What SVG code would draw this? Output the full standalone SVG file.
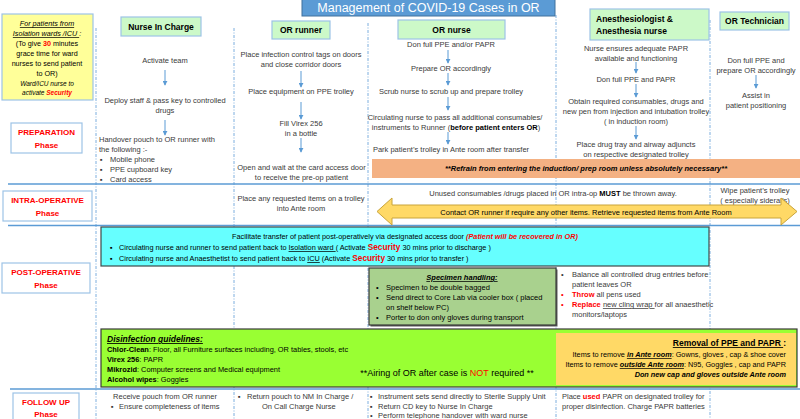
<svg xmlns="http://www.w3.org/2000/svg" width="800" height="419" viewBox="0 0 800 419">
<defs>
<style>
text{font-family:"Liberation Sans",Arial,"DejaVu Sans",sans-serif;font-size:7.5px;fill:#3a3a3a}
.c{text-anchor:middle}
.e{text-anchor:end}
.k{fill:#000}
.b{font-weight:bold}
.i{font-style:italic}
.u{text-decoration:underline}
.r{fill:#ff0000;font-weight:bold}
.hd rect{fill:#ccf9c8;stroke:#9dc3e6;stroke-width:1.2}
.hd text{font-weight:bold;font-size:8.5px;fill:#000}
.ph rect{fill:#fff;stroke:#9dc3e6;stroke-width:1.2}
.ph text{font-weight:bold;font-size:8px;fill:#ff0000;text-anchor:middle}
.sep{stroke:#5b9bd5;stroke-width:1.5}
.vd{stroke:#5b9bd5;stroke-width:0.8;stroke-dasharray:3 1.5 1 1.5;fill:none}
.ar{stroke:#5b9bd5;stroke-width:1;fill:none;marker-end:url(#ah)}
</style>
<marker id="ah" viewBox="0 0 6 6" refX="5" refY="3" markerWidth="5" markerHeight="5" orient="auto"><path d="M0,0L6,3L0,6z" fill="#5b9bd5"/></marker>
</defs>
<rect width="800" height="419" fill="#fff"/>

<g id="grid">
<line class="vd" x1="96" y1="28" x2="96" y2="419"/>
<line class="vd" x1="234" y1="28" x2="234" y2="419"/>
<line class="vd" x1="368" y1="23" x2="368" y2="419"/>
<line class="vd" x1="556" y1="15" x2="556" y2="419"/>
<line class="vd" x1="710" y1="20" x2="710" y2="419"/>
<line class="sep" x1="8" y1="184" x2="800" y2="184"/>
<line class="sep" x1="8" y1="225.5" x2="800" y2="225.5"/>
<line class="sep" x1="10" y1="389" x2="800" y2="389"/>
</g>

<g id="title">
<rect x="302" y="-6" width="253" height="22" fill="#5b9bd5" stroke="#41719c" stroke-width="1"/>
<text x="428.5" y="11.5" class="c" style="font-size:12.5px;fill:#fff">Management of COVID-19 Cases in OR</text>
</g>

<g id="headers" class="hd">
<g id="h-nic"><rect x="121" y="17" width="80" height="19"/><text x="161" y="29.5" class="c">Nurse In Charge</text></g>
<g id="h-runner"><rect x="272" y="21" width="58" height="18"/><text x="301" y="33" class="c">OR runner</text></g>
<g id="h-nurse"><rect x="398" y="20" width="107" height="19"/><text x="451.5" y="32.5" class="c">OR nurse</text></g>
<g id="h-anes"><rect x="590" y="9" width="119" height="31"/><text x="596" y="21.5">Anesthesiologist &amp;</text><text x="596" y="33.5">Anesthesia nurse</text></g>
<g id="h-tech"><rect x="720" y="12" width="69" height="18"/><text x="754.5" y="23.5" class="c">OR Technician</text></g>
</g>

<g id="isolation-note">
<rect x="2" y="14" width="91" height="86" fill="#ffff99" stroke="#9dc3e6" stroke-width="1.2"/>
<text x="47" y="26" class="c k i u" style="font-size:7.2px">For patients from</text>
<text x="47" y="36" class="c k i" style="font-size:7.2px"><tspan class="u">Isolation wards /ICU </tspan>:</text>
<text x="47" y="46" class="c k" style="font-size:7.2px">(To give <tspan class="r">30</tspan> minutes</text>
<text x="47" y="56" class="c k" style="font-size:7.2px">grace time for ward</text>
<text x="47" y="66" class="c k" style="font-size:7.2px">nurses to send patient</text>
<text x="47" y="76" class="c k" style="font-size:7.2px">to OR)</text>
<text x="47" y="85.5" class="c k i" style="font-size:6.5px">Ward/ICU nurse to</text>
<text x="47" y="94.5" class="c k i" style="font-size:6.5px">activate <tspan class="r">Security</tspan></text>
</g>

<g id="phases" class="ph">
<g id="p-prep"><rect x="11" y="123" width="71" height="30"/><text x="46.5" y="135">PREPARATION</text><text x="46.5" y="147.5">Phase</text></g>
<g id="p-intra"><rect x="3" y="191" width="89" height="30"/><text x="47.5" y="203">INTRA-OPERATIVE</text><text x="47.5" y="215.5">Phase</text></g>
<g id="p-post"><rect x="2" y="263" width="88" height="30"/><text x="46" y="275">POST-OPERATIVE</text><text x="46" y="287.5">Phase</text></g>
<g id="p-follow"><rect x="13" y="393" width="66" height="32"/><text x="46" y="404.5">FOLLOW UP</text><text x="46" y="417">Phase</text></g>
</g>

<g id="col-nic">
<text x="165" y="63" class="c">Activate team</text>
<text x="165" y="103" class="c">Deploy staff &amp; pass key to controlled</text>
<text x="165" y="113" class="c">drugs</text>
<text x="99" y="142">Handover pouch to OR runner with</text>
<text x="99" y="152">the following :-</text>
<text x="100" y="162">▪</text><text x="110" y="162">Mobile phone</text>
<text x="100" y="172">▪</text><text x="110" y="172">PPE cupboard key</text>
<text x="100" y="182">▪</text><text x="110" y="182">Card access</text>
</g>

<g id="col-runner">
<text x="301" y="57" class="c">Place infection control tags on doors</text>
<text x="301" y="67" class="c">and close corridor doors</text>
<text x="301" y="94" class="c">Place equipment on PPE trolley</text>
<text x="301" y="126" class="c">Fill Virex 256</text>
<text x="301" y="136" class="c">in a bottle</text>
<text x="301.5" y="170" class="c">Open and wait at the card access door</text>
<text x="301.5" y="179.5" class="c">to receive the pre-op patient</text>
<text x="301" y="201" class="c">Place any requested items on a trolley</text>
<text x="301" y="211" class="c">into Ante room</text>
</g>

<g id="col-ornurse">
<text x="451" y="47" class="c">Don full PPE and/or PAPR</text>
<text x="451" y="71" class="c">Prepare OR accordingly</text>
<text x="451" y="94" class="c">Scrub nurse to scrub up and prepare trolley</text>
<text x="455" y="120" class="c">Circulating nurse to pass all additional consumables/</text>
<text x="456" y="130" class="c">instruments to Runner (<tspan class="b k">before patient enters OR</tspan>)</text>
<text x="451" y="152" class="c">Park patient’s trolley in Ante room after transfer</text>
</g>

<g id="col-anes">
<text x="636" y="51" class="c">Nurse ensures adequate PAPR</text>
<text x="636" y="61" class="c">available and functioning</text>
<text x="636" y="82" class="c">Don full PPE and PAPR</text>
<text x="636" y="104" class="c">Obtain required consumables, drugs and</text>
<text x="636" y="114" class="c">new pen from injection and intubation trolley</text>
<text x="636" y="124" class="c">( in induction room)</text>
<text x="636" y="147" class="c">Place drug tray and airway adjuncts</text>
<text x="636" y="157" class="c">on respective designated trolley</text>
</g>

<g id="col-tech">
<text x="756" y="63" class="c">Don full PPE and</text>
<text x="756" y="73" class="c">prepare OR accordingly</text>
<text x="756" y="98" class="c">Assist in</text>
<text x="756" y="108" class="c">patient positioning</text>
<text x="755" y="193" class="c">Wipe patient’s trolley</text>
<text x="755" y="203" class="c">( especially siderails)</text>
</g>

<g id="refrain-banner">
<rect x="372" y="159" width="428" height="19" fill="#f4b183"/>
<text x="586" y="171" class="c k b i">**Refrain from entering the induction/ prep room unless absolutely necessary**</text>
</g>

<g id="intra-note">
<text x="553" y="195.5" class="c">Unused consumables /drugs placed in OR intra-op <tspan class="b k">MUST</tspan> be thrown away.</text>
</g>

<g id="contact-arrow">
<path d="M377,211.5L392,198V205H781V198L797,211.5L781,225V218H392V225Z" fill="#ffd966" stroke="#c9a43a" stroke-width="1"/>
<text x="586" y="214.5" class="c k">Contact OR runner if require any other items. Retrieve requested items from Ante Room</text>
</g>

<g id="transfer-box">
<rect x="101" y="227" width="608" height="39" fill="#66ffff" stroke="#3f4a4a" stroke-width="1.2"/>
<text x="405" y="239" class="c k" style="font-size:7.3px">Facilitate transfer of patient post-operatively via designated access door <tspan class="i b" style="fill:#ff0000">(Patient will be recovered in OR)</tspan></text>
<text x="110" y="250" class="k" style="font-size:7.3px">▪</text>
<text x="119" y="250" class="k" style="font-size:7.3px">Circulating nurse and runner to send patient back to <tspan class="u">Isolation ward </tspan>( Activate <tspan class="r" style="font-size:8.3px">Security</tspan> 30 mins prior to discharge )</text>
<text x="110" y="261" class="k" style="font-size:7.3px">▪</text>
<text x="119" y="261" class="k" style="font-size:7.3px">Circulating nurse and Anaesthetist to send patient back to <tspan class="u">ICU</tspan> (Activate <tspan class="r" style="font-size:8.3px">Security</tspan> 30 mins prior to transfer )</text>
</g>

<g id="specimen-box">
<rect x="370.5" y="269.5" width="187" height="57" fill="#5a5a5a"/>
<rect x="369" y="268" width="187" height="57" fill="#a9d18e" stroke="#3a3a3a" stroke-width="1.2"/>
<text x="462" y="280" class="c k b i u">Specimen handling:</text>
<text x="376" y="290" class="k">•</text><text x="386" y="290" class="k">Specimen to be double bagged</text>
<text x="376" y="300" class="k">•</text><text x="386" y="300" class="k">Send direct to Core Lab via cooler box ( placed</text>
<text x="386" y="310" class="k">on shelf below PC)</text>
<text x="376" y="320" class="k">•</text><text x="386" y="320" class="k">Porter to don only gloves during transport</text>
</g>

<g id="anes-post">
<text x="561" y="277">•</text><text x="572" y="277">Balance all controlled drug entries before</text>
<text x="572" y="287">patient leaves OR</text>
<text x="561" y="297" style="fill:#ff0000">•</text><text x="572" y="297"><tspan class="r">Throw</tspan> all pens used</text>
<text x="561" y="307" style="fill:#ff0000">•</text><text x="572" y="307"><tspan class="r">Replace</tspan> <tspan class="u">new cling wrap </tspan>for all anaesthetic</text>
<text x="572" y="317">monitors/laptops</text>
</g>

<g id="disinfection-box">
<rect x="101" y="329" width="696" height="58" fill="#99ff33" stroke="#3a3a3a" stroke-width="1.2"/>
<text x="107" y="342" class="k b i u" style="font-size:8.5px">Disinfection guidelines:</text>
<text x="107" y="352" class="k" style="font-size:7.4px"><tspan class="b">Chlor-Clean</tspan>: Floor, all Furniture surfaces including, OR tables, stools, etc</text>
<text x="107" y="362" class="k" style="font-size:7.4px"><tspan class="b">Virex 256</tspan>: PAPR</text>
<text x="107" y="372" class="k" style="font-size:7.4px"><tspan class="b">Mikrozid</tspan>: Computer screens and Medical equipment</text>
<text x="107" y="382" class="k" style="font-size:7.4px"><tspan class="b">Alcohol wipes</tspan>: Goggles</text>
<text x="447" y="376" class="c k" style="font-size:9px">**Airing of OR after case is <tspan style="fill:#ff0000">NOT</tspan> required **</text>
</g>

<g id="ppe-removal-box">
<rect x="556" y="333" width="240" height="52" fill="#ffd966"/>
<text x="786" y="346" class="e k b" style="font-size:8.5px"><tspan class="u">Removal of PPE and PAPR </tspan>:</text>
<text x="786" y="357" class="e k" style="font-size:7.3px">Items to remove <tspan class="b i u">in Ante room</tspan>: Gowns, gloves , cap &amp; shoe cover</text>
<text x="786" y="367" class="e k" style="font-size:7.3px">Items to remove <tspan class="b i u">outside Ante room</tspan>: N95, Goggles , cap and PAPR</text>
<text x="786" y="377" class="e k b i" style="font-size:7.3px">Don new cap and gloves outside Ante room</text>
</g>

<g id="follow-up">
<text x="165" y="399" class="c">Receive pouch from OR runner</text>
<text x="111" y="409">▪</text><text x="119" y="409">Ensure completeness of items</text>
<text x="238" y="399">▪</text><text x="247" y="399">Return pouch to NM In Charge /</text>
<text x="262" y="409">On Call Charge Nurse</text>
<text x="370" y="399">▪</text><text x="378" y="399">Instrument sets send directly to Sterile Supply Unit</text>
<text x="370" y="409">▪</text><text x="378" y="409">Return CD key to Nurse In Charge</text>
<text x="370" y="418">•</text><text x="378" y="418">Perform telephone handover with ward nurse</text>
<text x="562" y="399">Place <tspan class="r">used</tspan> PAPR on designated trolley for</text>
<text x="562" y="409">proper disinfection. Charge PAPR batteries</text>
</g>

<g id="connectors">
<line class="ar" x1="165" y1="70" x2="165" y2="85"/>
<line class="ar" x1="165" y1="120" x2="165" y2="135"/>
<line class="ar" x1="301" y1="71" x2="301" y2="87"/>
<line class="ar" x1="301" y1="102" x2="301" y2="119"/>
<line class="ar" x1="301" y1="138" x2="301" y2="152"/>
<line class="ar" x1="448" y1="50" x2="448" y2="63"/>
<line class="ar" x1="448" y1="73" x2="448" y2="85"/>
<line class="ar" x1="448" y1="97" x2="448" y2="110"/>
<line class="ar" x1="448" y1="132" x2="448" y2="144"/>
<line class="ar" x1="636" y1="62" x2="636" y2="73"/>
<line class="ar" x1="636" y1="84" x2="636" y2="97"/>
<line class="ar" x1="636" y1="126" x2="636" y2="139"/>
<line class="ar" x1="756" y1="75" x2="756" y2="88"/>
</g>
</svg>
